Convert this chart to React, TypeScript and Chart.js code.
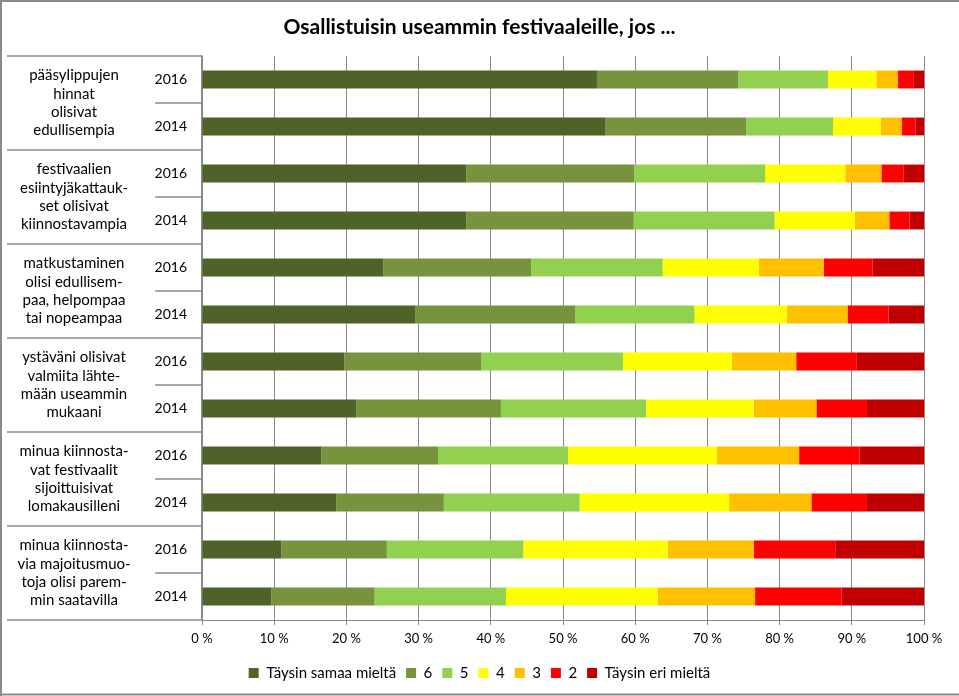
import React, { useEffect, useRef } from "react";
import { Chart, registerables } from "chart.js";

Chart.register(...registerables);

const titleText = "Osallistuisin useammin festivaaleille, jos ...";

const categories = ["2016", "2014", "2016", "2014", "2016", "2014", "2016", "2014", "2016", "2014", "2016", "2014"];

const groupLabels = [
  ["pääsylippujen", "hinnat", "olisivat", "edullisempia"],
  ["festivaalien", "esiintyjäkattauk-", "set olisivat", "kiinnostavampia"],
  ["matkustaminen", "olisi edullisem-", "paa, helpompaa", "tai nopeampaa"],
  ["ystäväni olisivat", "valmiita lähte-", "mään useammin", "mukaani"],
  ["minua kiinnosta-", "vat festivaalit", "sijoittuisivat", "lomakausilleni"],
  ["minua kiinnosta-", "via majoitusmuo-", "toja olisi parem-", "min saatavilla"],
];

const seriesNames = ["Täysin samaa mieltä", "6", "5", "4", "3", "2", "Täysin eri mieltä"];
const seriesColors = ["#4F6228", "#77933C", "#92D050", "#FFFF00", "#FFC000", "#FF0000", "#C00000"];

const taysinSamaa = [54.7, 55.9, 36.6, 36.6, 25.1, 29.5, 19.7, 21.4, 16.5, 18.6, 11.0, 9.6];
const kuusi = [19.6, 19.5, 23.3, 23.2, 20.5, 22.2, 19.0, 20.0, 16.2, 14.9, 14.6, 14.3];
const viisi = [12.4, 12.0, 18.1, 19.5, 18.2, 16.5, 19.6, 20.1, 18.0, 18.8, 18.9, 18.2];
const nelja = [6.7, 6.6, 11.1, 11.1, 13.3, 12.8, 15.1, 14.9, 20.6, 20.7, 20.0, 21.0];
const kolme = [3.0, 2.9, 5.0, 4.8, 9.0, 8.4, 8.9, 8.7, 11.4, 11.4, 11.9, 13.5];
const kaksi = [2.2, 1.9, 3.1, 2.8, 6.8, 5.7, 8.4, 7.0, 8.4, 7.7, 11.3, 12.0];
const taysinEri = [1.4, 1.2, 2.8, 2.0, 7.1, 4.9, 9.3, 7.9, 8.9, 7.9, 12.3, 11.4];

const seriesValues = [taysinSamaa, kuusi, viisi, nelja, kolme, kaksi, taysinEri];

const FONT = "Lato, 'Liberation Sans', sans-serif";
const LINE = "#8a8a8a";

const tablePlugin = {
  id: "tableAxis",
  afterDraw(chart: any) {
    const { ctx } = chart;
    const y = chart.scales.y;
    const step = y.getPixelForValue(1) - y.getPixelForValue(0);
    const first = y.getPixelForValue(0);
    ctx.save();
    ctx.strokeStyle = LINE;
    ctx.lineWidth = 1.3;
    for (let i = 0; i <= categories.length; i++) {
      const py = first + (i - 0.5) * step;
      const x0 = i % 2 === 0 ? 7 : 155;
      ctx.beginPath();
      ctx.moveTo(x0, py);
      ctx.lineTo(y.right, py);
      ctx.stroke();
    }
    ctx.fillStyle = "#000";
    ctx.font = `15px ${FONT}`;
    ctx.textAlign = "center";
    ctx.textBaseline = "middle";
    const lh = 18.3;
    groupLabels.forEach((lines, g) => {
      const cy = (y.getPixelForValue(2 * g) + y.getPixelForValue(2 * g + 1)) / 2;
      const start = cy - ((lines.length - 1) / 2) * lh;
      lines.forEach((t, k) => ctx.fillText(t, 74, start + k * lh));
    });
    // outer frame
    ctx.strokeStyle = LINE;
    ctx.lineWidth = 2;
    ctx.beginPath();
    ctx.moveTo(0, 1);
    ctx.lineTo(chart.width, 1);
    ctx.moveTo(1, 0);
    ctx.lineTo(1, chart.height);
    ctx.moveTo(0, 694.5);
    ctx.lineTo(chart.width, 694.5);
    ctx.stroke();
    ctx.restore();
  },
};

export default function App() {
  const ref = useRef<HTMLCanvasElement | null>(null);

  useEffect(() => {
    document.body.style.margin = "0";
    const canvas = ref.current;
    if (!canvas) return;
    Chart.defaults.font.family = FONT;
    const chart = new Chart(canvas, {
      type: "bar",
      data: {
        labels: categories,
        datasets: seriesNames.map((name, i) => ({
          label: name,
          data: seriesValues[i],
          backgroundColor: seriesColors[i],
          borderWidth: 0,
          barPercentage: 0.38,
          categoryPercentage: 1,
        })),
      },
      options: {
        indexAxis: "y",
        animation: false,
        responsive: false,
        maintainAspectRatio: false,
        devicePixelRatio: 1,
        layout: { padding: { left: 0, right: 0, top: 0, bottom: 5.5 } },
        scales: {
          x: {
            stacked: true,
            min: 0,
            max: 100,
            ticks: {
              stepSize: 10,
              color: "#000",
              font: { size: 13, family: FONT },
              padding: 6,
              callback: (v: any) => `${v} %`,
            },
            grid: { color: LINE, lineWidth: 1, drawTicks: true, tickLength: 5, tickColor: LINE },
            border: { color: LINE, width: 1 },
            afterFit: (s: any) => {
              s.height = 35.5;
            },
          },
          y: {
            stacked: true,
            position: "left",
            ticks: { color: "#000", font: { size: 14, family: FONT }, padding: 15 },
            grid: { display: false, drawTicks: false },
            border: { display: true, color: LINE, width: 1.3 },
            afterFit: (s: any) => {
              s.width = 202;
            },
          },
          yRight: {
            type: "category",
            position: "right",
            labels: categories,
            ticks: { display: false },
            grid: { display: false, drawTicks: false },
            border: { display: false },
            afterFit: (s: any) => {
              s.width = 35;
            },
          },
        },
        plugins: {
          title: {
            display: true,
            text: titleText,
            color: "#000",
            font: { size: 21, weight: "bold", family: FONT, lineHeight: 1.2 },
            padding: { top: 15, bottom: 15.8 },
          },
          legend: {
            display: true,
            position: "bottom",
            labels: {
              color: "#000",
              font: { size: 15, family: FONT },
              boxWidth: 10,
              boxHeight: 10,
              padding: 10,
            },
          },
          tooltip: { enabled: false },
        },
      },
      plugins: [tablePlugin],
    } as any);
    return () => chart.destroy();
  }, []);

  return (
    <div style={{ width: 959, height: 696, background: "#fff" }}>
      <canvas ref={ref} width={959} height={696} style={{ display: "block" }} />
    </div>
  );
}
